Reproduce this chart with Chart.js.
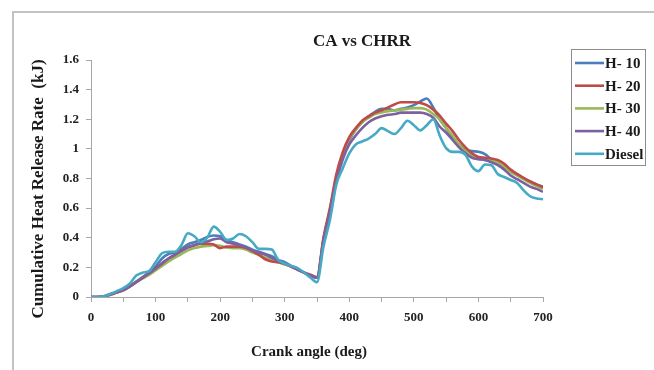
<!DOCTYPE html>
<html>
<head>
<meta charset="utf-8">
<script src="https://cdn.jsdelivr.net/npm/chart.js@4/dist/chart.umd.min.js"></script>
<style>
html,body{margin:0;padding:0;background:#fff;}
#wrap{position:relative;width:654px;height:370px;}
canvas{display:block;}
</style>
</head>
<body>
<div id="wrap"><canvas id="c" width="654" height="370"></canvas></div>
<script>
const chartTitle = "CA vs CHRR";
const xTitle = "Crank angle (deg)";
const yTitle = "Cumulative Heat Release Rate  (kJ)";
const seriesNames = ["H- 10", "H- 20", "H- 30", "H- 40", "Diesel"];
const seriesColors = ["#4a7ebb", "#be4b48", "#98b954", "#7d60a0", "#46aac5"];

const crankAngle = [0,10,20,30,40,50,60,70,80,90,100,110,120,130,140,150,160,170,180,190,200,210,220,230,240,250,260,270,280,290,300,310,320,330,340,350,360,370,380,390,400,410,420,430,440,450,460,470,480,490,500,510,520,530,540,550,560,570,580,590,600,610,620,630,640,650,660,670,680,690,700];

const h10 = [0,0,0.005,0.02,0.035,0.05,0.075,0.105,0.135,0.165,0.205,0.26,0.29,0.30,0.325,0.355,0.37,0.385,0.405,0.415,0.41,0.385,0.37,0.355,0.34,0.32,0.305,0.29,0.275,0.25,0.235,0.21,0.185,0.165,0.145,0.13,0.38,0.58,0.80,0.96,1.06,1.13,1.18,1.22,1.25,1.27,1.27,1.26,1.27,1.28,1.295,1.32,1.34,1.28,1.20,1.14,1.07,1.03,0.995,0.985,0.98,0.965,0.93,0.905,0.88,0.855,0.83,0.80,0.78,0.76,0.745];
const h20 = [0,0,0.003,0.015,0.03,0.045,0.07,0.10,0.13,0.16,0.195,0.225,0.26,0.285,0.315,0.335,0.35,0.36,0.36,0.355,0.33,0.34,0.34,0.34,0.33,0.31,0.285,0.255,0.24,0.235,0.225,0.205,0.185,0.165,0.15,0.135,0.40,0.60,0.83,0.98,1.08,1.14,1.19,1.22,1.245,1.26,1.28,1.30,1.315,1.315,1.315,1.31,1.295,1.265,1.225,1.17,1.12,1.06,1.01,0.97,0.945,0.94,0.935,0.925,0.90,0.86,0.83,0.805,0.78,0.76,0.74];
const h30 = [0,0,0.003,0.015,0.03,0.045,0.07,0.10,0.125,0.15,0.18,0.21,0.24,0.265,0.29,0.315,0.33,0.34,0.345,0.35,0.345,0.335,0.33,0.33,0.32,0.30,0.285,0.265,0.25,0.235,0.22,0.205,0.185,0.165,0.145,0.13,0.39,0.59,0.81,0.97,1.07,1.13,1.18,1.21,1.235,1.245,1.255,1.26,1.265,1.27,1.275,1.275,1.265,1.235,1.20,1.14,1.09,1.03,0.985,0.955,0.935,0.925,0.92,0.91,0.88,0.845,0.82,0.795,0.77,0.75,0.73];
const h40 = [0,0,0.004,0.018,0.033,0.048,0.072,0.10,0.13,0.16,0.19,0.23,0.26,0.285,0.31,0.335,0.35,0.365,0.375,0.39,0.395,0.37,0.36,0.35,0.335,0.315,0.30,0.285,0.265,0.245,0.225,0.205,0.185,0.165,0.145,0.13,0.38,0.57,0.78,0.93,1.03,1.09,1.14,1.18,1.205,1.22,1.23,1.235,1.245,1.245,1.245,1.245,1.235,1.21,1.15,1.11,1.06,1.01,0.97,0.94,0.93,0.925,0.91,0.89,0.86,0.82,0.795,0.77,0.745,0.73,0.71];
const diesel = [0,0,0.005,0.02,0.04,0.06,0.09,0.145,0.165,0.175,0.235,0.295,0.305,0.305,0.35,0.43,0.41,0.37,0.40,0.475,0.44,0.385,0.395,0.425,0.41,0.37,0.325,0.325,0.32,0.25,0.225,0.21,0.195,0.165,0.13,0.10,0.34,0.52,0.76,0.87,0.97,1.03,1.05,1.07,1.10,1.14,1.12,1.10,1.14,1.19,1.16,1.125,1.16,1.20,1.09,1.005,0.98,0.98,0.96,0.88,0.85,0.895,0.89,0.83,0.81,0.79,0.77,0.72,0.68,0.665,0.66];

const seriesValues = [h10, h20, h30, h40, diesel];
const drawOrder = [4, 2, 3, 1, 0];

const xMin = 0, xMax = 700, xStep = 50, xLabelEvery = 100;
const yMin = 0, yMax = 1.6, yStep = 0.2;

const serif = '"Liberation Serif", "Times New Roman", serif';

const datasets = seriesNames.map((name, i) => ({
  label: name,
  data: crankAngle.map((a, j) => ({x: a, y: seriesValues[i][j]})),
  borderColor: seriesColors[i],
  backgroundColor: seriesColors[i],
  borderWidth: 2.6,
  pointRadius: 0,
  fill: false,
  cubicInterpolationMode: 'monotone',
  order: drawOrder[i]
}));

const decorPlugin = {
  id: 'decor',
  beforeDraw(chart) {
    const ctx = chart.ctx;
    ctx.save();
    ctx.fillStyle = '#fff';
    ctx.fillRect(0, 0, chart.width, chart.height);
    ctx.strokeStyle = '#c3c3c3';
    ctx.lineWidth = 2;
    ctx.beginPath();
    ctx.moveTo(13, chart.height);
    ctx.lineTo(13, 12);
    ctx.lineTo(chart.width, 12);
    ctx.stroke();
    ctx.restore();
  },
  afterDraw(chart) {
    const ctx = chart.ctx;
    ctx.save();
    ctx.fillStyle = '#1a1a1a';
    ctx.textAlign = 'center';
    ctx.textBaseline = 'middle';
    ctx.font = 'bold 17px ' + serif;
    ctx.fillText(chartTitle, 362, 42);
    ctx.font = 'bold 15px ' + serif;
    ctx.fillText(xTitle, 309, 352);
    ctx.save();
    ctx.translate(39, 189);
    ctx.rotate(-Math.PI / 2);
    ctx.font = 'bold 17px ' + serif;
    ctx.fillText(yTitle, 0, 0);
    ctx.restore();

    // legend
    const lx = 571, ly = 49, lw = 74, lh = 116;
    ctx.strokeStyle = '#8c8c8c';
    ctx.lineWidth = 1;
    ctx.strokeRect(lx + 0.5, ly + 0.5, lw, lh);
    ctx.font = 'bold 15px ' + serif;
    ctx.textAlign = 'left';
    seriesNames.forEach((name, i) => {
      const y = 63 + i * 22.7;
      ctx.strokeStyle = seriesColors[i];
      ctx.lineWidth = 2.6;
      ctx.beginPath();
      ctx.moveTo(575, y);
      ctx.lineTo(604, y);
      ctx.stroke();
      ctx.fillStyle = '#1a1a1a';
      ctx.fillText(name, 605, y + 1);
    });
    ctx.restore();
  }
};

new Chart(document.getElementById('c'), {
  type: 'line',
  data: { datasets },
  options: {
    responsive: false,
    animation: false,
    events: [],
    layout: { padding: { left: 0, top: 60, right: 111, bottom: 0 } },
    plugins: { legend: { display: false }, title: { display: false }, tooltip: { enabled: false } },
    scales: {
      x: {
        type: 'linear',
        min: xMin, max: xMax,
        afterFit(s) { s.height = 73; },
        ticks: {
          stepSize: xStep,
          autoSkip: false,
          maxRotation: 0,
          padding: 8,
          color: '#222',
          font: { family: serif, size: 13, weight: 'bold' },
          callback: (v) => (v % xLabelEvery === 0 ? String(v) : '')
        },
        grid: { drawOnChartArea: false, drawTicks: true, tickLength: 5, color: '#a6a6a6' },
        border: { display: true, color: '#a6a6a6', width: 1 }
      },
      y: {
        type: 'linear',
        min: yMin, max: yMax,
        afterFit(s) { s.width = 91; },
        ticks: {
          stepSize: yStep,
          padding: 7,
          color: '#222',
          font: { family: serif, size: 13, weight: 'bold' },
          callback: (v) => String(parseFloat(Number(v).toFixed(2)))
        },
        grid: { drawOnChartArea: false, drawTicks: true, tickLength: 5, color: '#a6a6a6' },
        border: { display: true, color: '#a6a6a6', width: 1 }
      }
    }
  },
  plugins: [decorPlugin]
});
</script>
</body>
</html>
